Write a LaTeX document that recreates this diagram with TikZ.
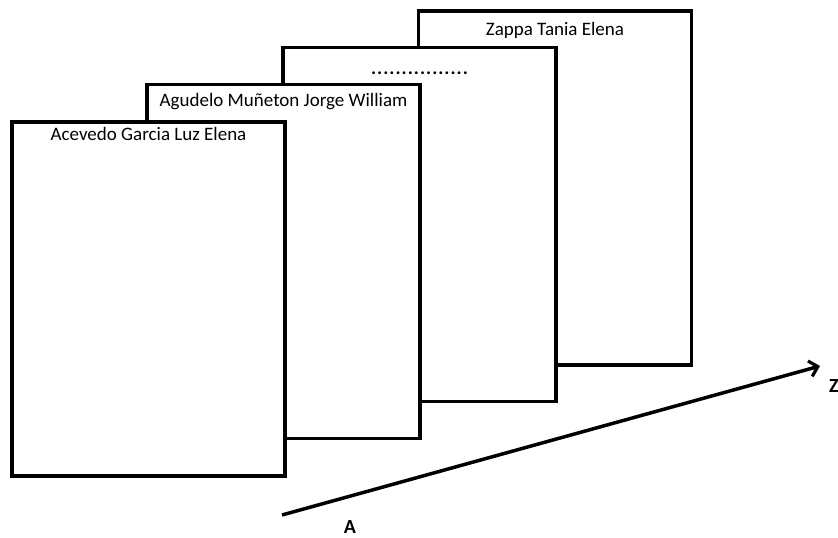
\documentclass[tikz,border=0pt]{standalone}
\usepackage{fontspec}
\setmainfont{Carlito}
\usetikzlibrary{arrows.meta}
\tikzset{
  hoja/.style={draw=black,fill=white,line width=3.8pt,minimum width=273pt,minimum height=354pt,inner sep=0pt},
  nombre/.style={font=\fontsize{19}{22}\selectfont,inner sep=0pt,anchor=base},
  letra/.style={font=\fontsize{20}{22}\selectfont\bfseries,inner sep=0pt}
}
\def\puntos{\hbox to 98pt{\xleaders\hbox to 6.1pt{\hss\bfseries.\hss}\hfill}}
\begin{document}
\begin{tikzpicture}[x=1pt,y=-1pt]
    \useasboundingbox (0,0) rectangle (838,538);
    % Hojas (de atras hacia adelante)
    \node[hoja] (h4) at (555,188) {};
    \node[hoja] (h3) at (419.5,224.5) {};
    \node[hoja] (h2) at (283.5,261.5) {};
    \node[hoja] (h1) at (148.5,299) {};
    % Nombres
    \node[nombre] (n4) at ([yshift=-26pt]h4.north) {Zappa Tania Elena};
    \node[nombre] (n3) at ([yshift=-29pt]h3.north) {\puntos};
    \node[nombre] (n2) at ([yshift=-24pt]h2.north) {Agudelo Muñeton Jorge William};
    \node[nombre] (n1) at ([yshift=-20pt]h1.north) {Acevedo Garcia Luz Elena};
    % Orden A - Z
    \coordinate (ini) at (282,515);
    \coordinate (fin) at (820,366);
    \draw[-{Straight Barb[length=8pt,width=16pt,line width=3.2pt]},line width=3.5pt,black] (ini) to (fin);
    \node[letra] (A) at (350,527) {A};
    \node[letra,anchor=west] (Z) at (829,386) {Z};
\end{tikzpicture}
\end{document}
